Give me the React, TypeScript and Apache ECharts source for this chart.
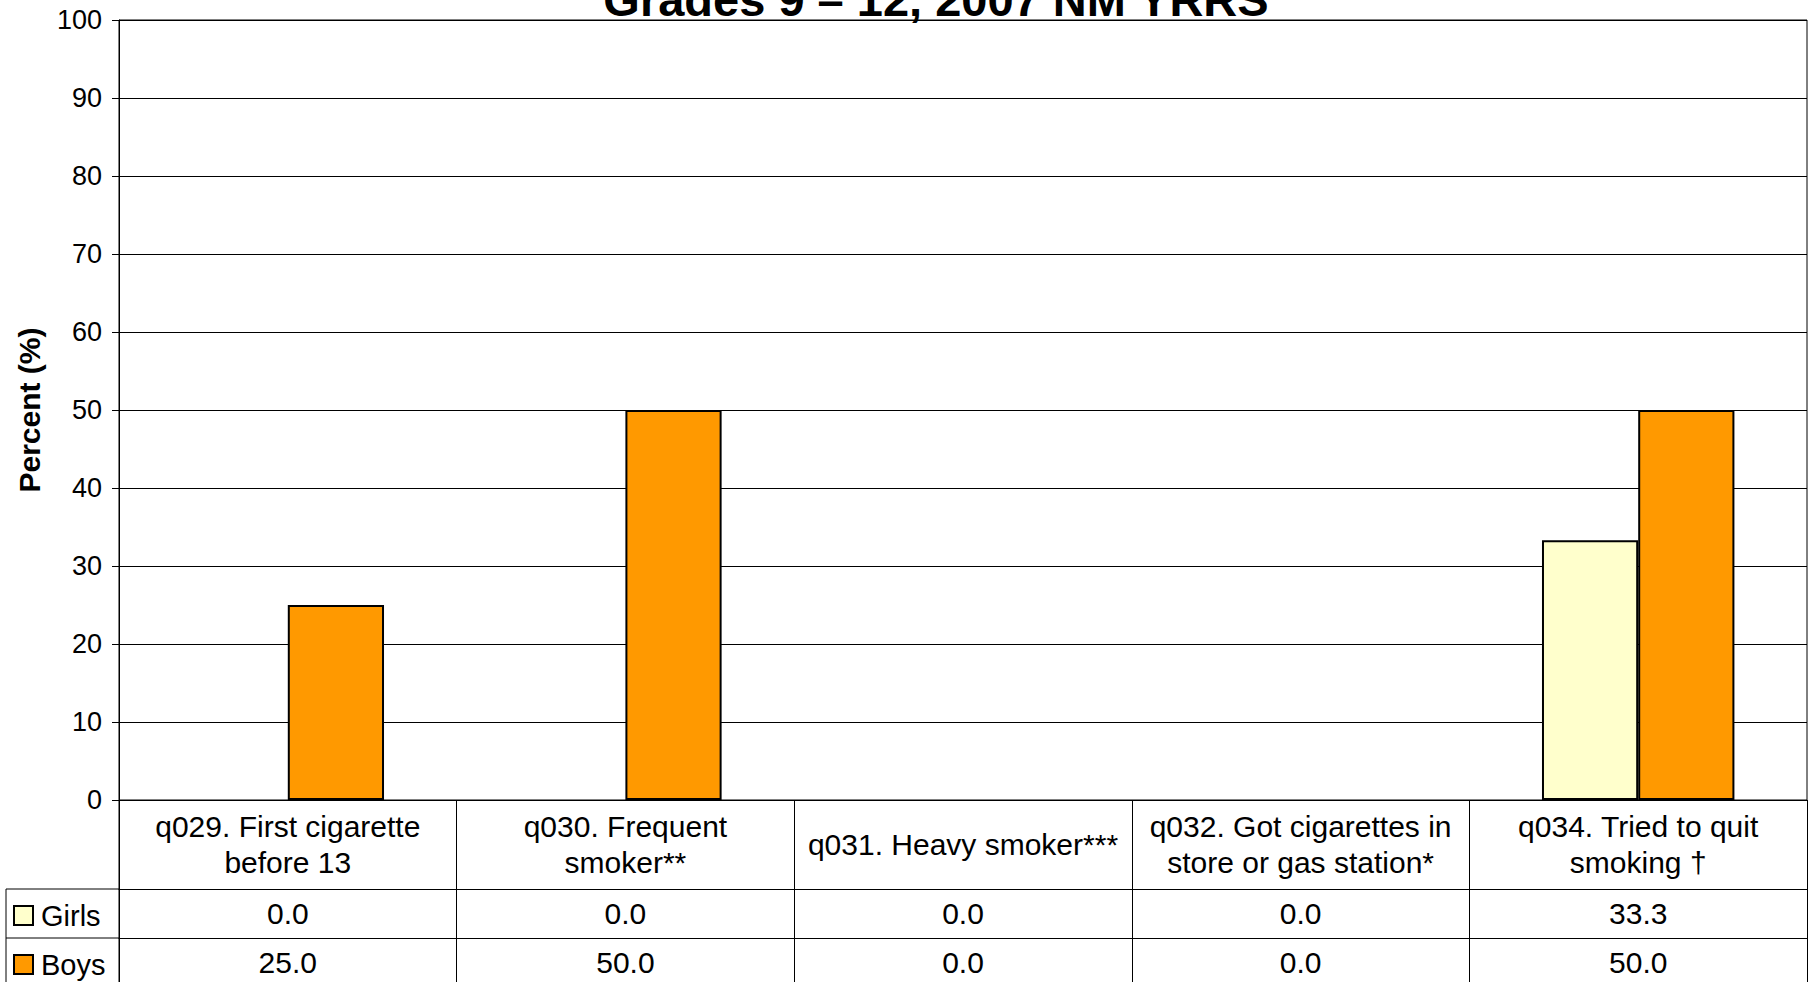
import React, { useEffect, useRef } from "react";
import * as echarts from "echarts";

const categories = [
  "q029. First cigarette\nbefore 13",
  "q030. Frequent\nsmoker**",
  "q031. Heavy smoker***",
  "q032. Got cigarettes in\nstore or gas station*",
  "q034. Tried to quit\nsmoking †",
];
const seriesNames = ["Girls", "Boys"];
const girls = [0.0, 0.0, 0.0, 0.0, 33.3];
const boys = [25.0, 50.0, 0.0, 0.0, 50.0];
const yTicks = { min: 0, max: 100, interval: 10 };
const titleText = "Grades 9 – 12, 2007 NM YRRS";
const yAxisName = "Percent (%)";

const W = 1813;
const H = 982;
const FONT = "'Liberation Sans', Arial, sans-serif";
const GRID_LEFT = 119;
const GRID_RIGHT = 6;
const GRID_TOP = 20;
const GRID_BOTTOM_Y = 800;
const HEADER_H = 89;
const ROW_H = 49;
const TABLE_LEFT = 6;

export default function App() {
  const ref = useRef<HTMLDivElement>(null);
  useEffect(() => {
    document.body.style.margin = "0";
    document.body.style.overflow = "hidden";
    const chart = echarts.init(ref.current!, null, { renderer: "svg" });
    const black = "#000";
    const row1Y = GRID_BOTTOM_Y + HEADER_H;
    const row2Y = row1Y + ROW_H;
    const valueAxis = (offset: number, values: number[], tickLen: number) => ({
      type: "category",
      data: categories,
      position: "bottom",
      offset,
      axisLine: { show: true, lineStyle: { color: black, width: 1 } },
      axisTick: { show: true, interval: 0, length: tickLen, lineStyle: { color: black, width: 1 } },
      axisLabel: {
        interval: 0,
        margin: ROW_H / 2,
        verticalAlign: "middle",
        fontSize: 30,
        color: black,
        fontFamily: FONT,
        formatter: (_v: string, i: number) => values[i].toFixed(1),
      },
    });
    const legendItem = (name: string, top: number) => ({
      data: [name],
      left: 13,
      top,
      padding: 0,
      itemWidth: 19,
      itemHeight: 19,
      icon: "rect",
      itemStyle: { borderColor: black, borderWidth: 2 },
      textStyle: { fontSize: 29, color: black, fontFamily: FONT, padding: [0, 0, 0, 3] },
    });
    const barData = (values: number[]) =>
      values.map((v) => (v === 0 ? { value: v, itemStyle: { borderWidth: 0 } } : v));
    chart.setOption({
      animation: false,
      backgroundColor: "#fff",
      grid: {
        left: GRID_LEFT,
        right: GRID_RIGHT,
        top: GRID_TOP,
        bottom: H - GRID_BOTTOM_Y,
        show: true,
        borderColor: black,
        borderWidth: 1,
        backgroundColor: "#fff",
      },
      legend: [
        legendItem(seriesNames[0], row1Y + ROW_H / 2 - 12.5),
        legendItem(seriesNames[1], row2Y + ROW_H / 2 - 12.5),
      ],
      xAxis: [
        {
          type: "category",
          data: categories,
          position: "bottom",
          axisLine: { show: true, lineStyle: { color: black, width: 1 } },
          axisTick: { show: true, interval: 0, length: HEADER_H, lineStyle: { color: black, width: 1 } },
          axisLabel: {
            interval: 0,
            margin: HEADER_H / 2,
            verticalAlign: "middle",
            fontSize: 30,
            lineHeight: 36,
            color: black,
            fontFamily: FONT,
          },
        },
        valueAxis(HEADER_H, girls, ROW_H),
        valueAxis(HEADER_H + ROW_H, boys, ROW_H + 10),
      ],
      yAxis: {
        type: "value",
        min: yTicks.min,
        max: yTicks.max,
        interval: yTicks.interval,
        name: yAxisName,
        nameLocation: "middle",
        nameGap: 75,
        nameTextStyle: { fontSize: 30, fontWeight: "bold", color: black, fontFamily: FONT },
        axisLine: { show: true, lineStyle: { color: black, width: 1 } },
        axisTick: { show: true, length: 7, lineStyle: { color: black, width: 1 } },
        axisLabel: { fontSize: 27, color: black, margin: 17, fontFamily: FONT },
        splitLine: { show: true, lineStyle: { color: black, width: 1 } },
      },
      series: [
        {
          name: seriesNames[0],
          type: "bar",
          data: barData(girls),
          barGap: "0%",
          barCategoryGap: "43%",
          itemStyle: { color: "#FFFFCC", borderColor: black, borderWidth: 2 },
        },
        {
          name: seriesNames[1],
          type: "bar",
          data: barData(boys),
          barGap: "0%",
          barCategoryGap: "43%",
          itemStyle: { color: "#FF9900", borderColor: black, borderWidth: 2 },
        },
      ],
      graphic: [
        {
          type: "text",
          x: 936,
          y: -1,
          style: {
            text: titleText,
            fontSize: 47,
            fontWeight: "bold",
            fontFamily: FONT,
            fill: black,
            align: "center",
            verticalAlign: "middle",
          },
        },
        {
          type: "line",
          shape: { x1: TABLE_LEFT, y1: row1Y, x2: GRID_LEFT, y2: row1Y },
          style: { stroke: black, lineWidth: 1 },
        },
        {
          type: "line",
          shape: { x1: TABLE_LEFT, y1: row2Y, x2: GRID_LEFT, y2: row2Y },
          style: { stroke: black, lineWidth: 1 },
        },
        {
          type: "line",
          shape: { x1: TABLE_LEFT, y1: row1Y, x2: TABLE_LEFT, y2: H },
          style: { stroke: black, lineWidth: 1 },
        },
        {
          type: "line",
          shape: { x1: GRID_LEFT, y1: GRID_BOTTOM_Y, x2: GRID_LEFT, y2: H },
          style: { stroke: black, lineWidth: 1 },
        },
      ],
    });
    return () => chart.dispose();
  }, []);
  return <div ref={ref} style={{ width: W, height: H }} />;
}
